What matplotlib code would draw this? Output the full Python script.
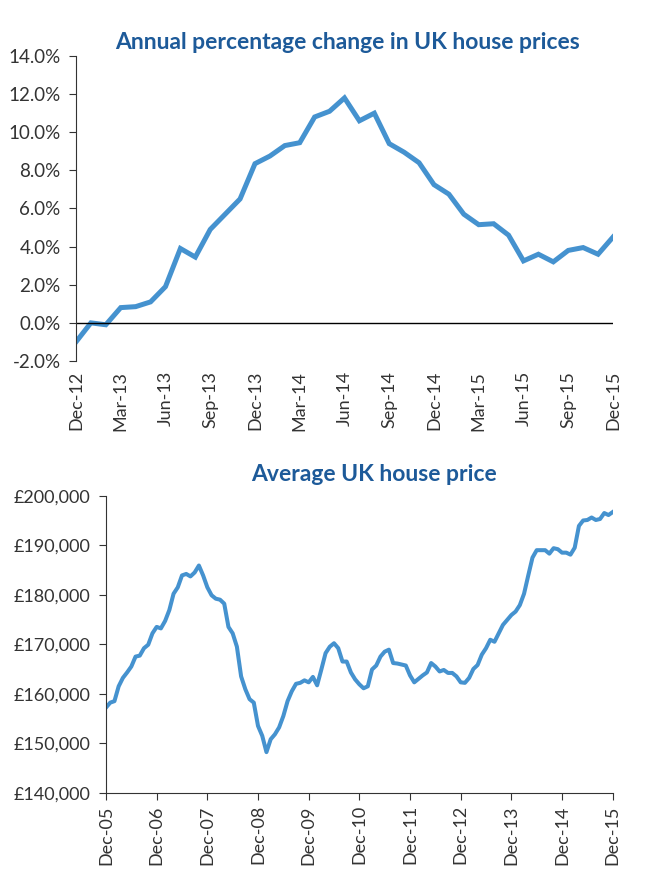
import numpy as np
import matplotlib
matplotlib.use("Agg")
import matplotlib.pyplot as plt
from matplotlib.ticker import FuncFormatter

# ---- datos: variacion anual (%) mensual, Dec-12 .. Dec-15 ----
annual_change = [
    -1.0, 0.0, -0.1, 0.8, 0.85, 1.1, 1.9, 3.9, 3.45, 4.9, 5.7, 6.5,
    8.35, 8.75, 9.3, 9.45, 10.8, 11.1, 11.8, 10.6, 11.0, 9.4, 8.95, 8.4,
    7.25, 6.75, 5.7, 5.15, 5.2, 4.6, 3.25, 3.6, 3.2, 3.8, 3.95, 3.6,
    4.5,
]
annual_ticks = ["Dec-12", "Mar-13", "Jun-13", "Sep-13", "Dec-13", "Mar-14", "Jun-14",
                "Sep-14", "Dec-14", "Mar-15", "Jun-15", "Sep-15", "Dec-15"]

# ---- datos: precio medio (GBP) mensual, Dec-05 .. Dec-15 ----
avg_price = [
    157200, 158200, 158500, 161500, 163200, 164300, 165500, 167500, 167700, 169200, 169900, 172200,
    173500, 173200, 174700, 176900, 180200, 181500, 183900, 184200, 183700, 184500, 185900, 183900,
    181500, 179900, 179200, 179000, 178200, 173500, 172200, 169500, 163500, 160900, 158900, 158200,
    153500, 151500, 148200, 150800, 151800, 153200, 155500, 158500, 160500, 162000, 162200, 162700,
    162300, 163400, 161700, 164900, 168200, 169500, 170200, 169200, 166500, 166500, 164300, 162900,
    161900, 161100, 161500, 164900, 165700, 167500, 168500, 168900, 166200, 166100, 165900, 165700,
    163700, 162300, 163000, 163700, 164300, 166200, 165500, 164500, 164800, 164200, 164200, 163500,
    162300, 162200, 163200, 165000, 165800, 167900, 169200, 170900, 170500, 172200, 173900, 174900,
    175900, 176600, 177900, 180200, 183900, 187500, 189000, 189000, 189000, 188300, 189400, 189200,
    188500, 188500, 188100, 189500, 193900, 195000, 195100, 195600, 195100, 195300, 196500, 196100,
    196700,
]
price_ticks = ["Dec-05", "Dec-06", "Dec-07", "Dec-08", "Dec-09", "Dec-10",
               "Dec-11", "Dec-12", "Dec-13", "Dec-14", "Dec-15"]

LINE = "#4592cf"
TITLE = "#1d5a99"
TXT = "#333333"

plt.rcParams["font.family"] = ["Lato", "DejaVu Sans"]

fig = plt.figure(figsize=(6.7, 8.9), dpi=100)

# ---- grafico de arriba ----
ax1 = fig.add_axes([0.1134, 0.5944, 0.8015, 0.3427])
x1 = np.arange(len(annual_change))
ax1.plot(x1, annual_change, color=LINE, lw=3.6, solid_joinstyle="miter")
ax1.axhline(0, color="black", lw=1)
ax1.set_xlim(0, len(annual_change) - 1)
ax1.set_ylim(-2, 14)
ax1.set_yticks(np.arange(-2, 15, 2))
ax1.yaxis.set_major_formatter(FuncFormatter(lambda v, p: "%.1f%%" % v))
ax1.set_xticks(np.arange(0, len(annual_change), 3))
ax1.set_xticklabels(annual_ticks, rotation=90)
for s in ["top", "right", "bottom"]:
    ax1.spines[s].set_visible(False)
ax1.spines["left"].set_color(TXT)
ax1.tick_params(axis="y", direction="out", length=5, color=TXT, labelsize=13.5, labelcolor=TXT, pad=6)
ax1.tick_params(axis="x", length=0, labelsize=13, labelcolor=TXT, pad=7)
fig.text(0.5187, 0.9517, "Annual percentage change in UK house prices",
         ha="center", va="center", fontsize=16.5, fontweight="bold", color=TITLE)

# ---- grafico de abajo ----
ax2 = fig.add_axes([0.1582, 0.1093, 0.7563, 0.3337])
x2 = np.arange(len(avg_price))
ax2.plot(x2, avg_price, color=LINE, lw=2.9)
ax2.set_xlim(0, len(avg_price) - 1)
ax2.set_ylim(140000, 200000)
ax2.set_yticks(np.arange(140000, 200001, 10000))
ax2.yaxis.set_major_formatter(FuncFormatter(lambda v, p: "£{:,.0f}".format(v)))
ax2.set_xticks(np.arange(0, len(avg_price), 12))
ax2.set_xticklabels(price_ticks, rotation=90)
for s in ["top", "right"]:
    ax2.spines[s].set_visible(False)
for s in ["left", "bottom"]:
    ax2.spines[s].set_color(TXT)
ax2.tick_params(direction="out", length=5, color=TXT, labelsize=13, labelcolor=TXT, pad=6)
ax2.tick_params(axis="x", labelsize=13, pad=4)
fig.text(0.5575, 0.467, "Average UK house price",
         ha="center", va="center", fontsize=16.5, fontweight="bold", color=TITLE)

fig.savefig("out.png", dpi=100)
